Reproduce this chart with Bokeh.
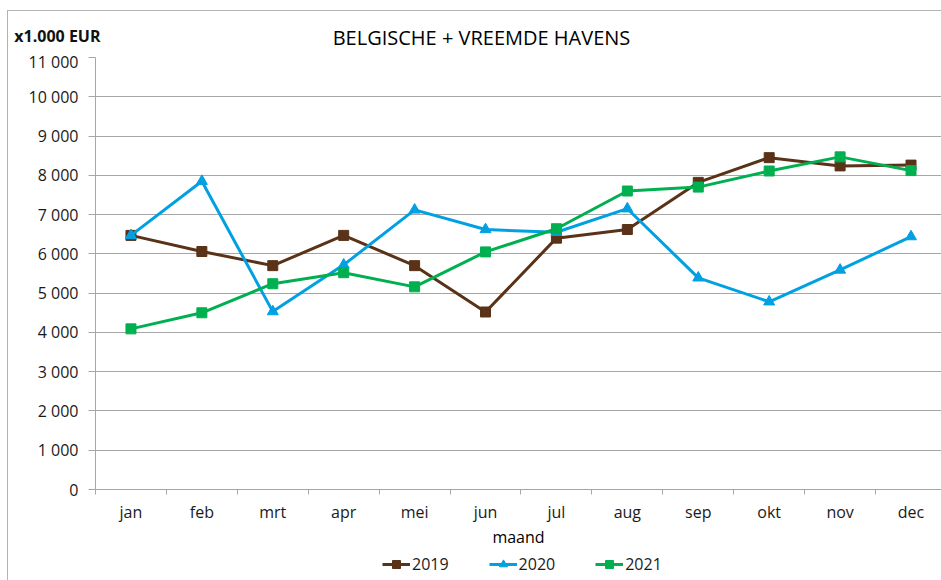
from bokeh.plotting import figure
from bokeh.layouts import column
from bokeh.models import Range1d, FixedTicker, Label, Legend, LegendItem
from bokeh.embed import file_html
from bokeh.resources import INLINE

months = ["jan", "feb", "mrt", "apr", "mei", "jun", "jul", "aug", "sep", "okt", "nov", "dec"]
v2019 = [6470, 6060, 5700, 6470, 5700, 4520, 6400, 6620, 7820, 8450, 8240, 8260]
v2020 = [6470, 7850, 4530, 5720, 7120, 6620, 6550, 7150, 5390, 4780, 5590, 6440]
v2021 = [4090, 4500, 5240, 5520, 5160, 6050, 6640, 7600, 7700, 8110, 8470, 8120]
series_names = ["2019", "2020", "2021"]
y_ticks = list(range(0, 11001, 1000))
unit_label = "x1.000 EUR"
title_text = "BELGISCHE + VREEMDE HAVENS"

FONT = "Open Sans"
GRID = "#a6a6a6"
W = 941

x = [i + 0.5 for i in range(len(months))]
series = [v2019, v2020, v2021]

def bare(h):
    f = figure(width=W, height=h, output_backend="svg", toolbar_location=None,
               x_range=Range1d(0, 1), y_range=Range1d(0, 1),
               min_border_left=95, min_border_right=0, min_border_top=0, min_border_bottom=0)
    f.xaxis.visible = False
    f.yaxis.visible = False
    f.grid.grid_line_color = None
    f.outline_line_color = None
    return f

# ---- header with title and unit
head = bare(50)
head.yaxis.visible = True
head.yaxis.ticker = FixedTicker(ticks=[0.3])
head.yaxis.major_label_overrides = {0.3: unit_label}
head.yaxis.axis_line_color = None
head.yaxis.major_tick_line_color = None
head.yaxis.minor_tick_line_color = None
head.yaxis.major_tick_out = 0
head.yaxis.major_tick_in = 0
head.yaxis.major_label_standoff = -5
head.yaxis.major_label_text_font = FONT
head.yaxis.major_label_text_font_size = "16px"
head.yaxis.major_label_text_font_style = "bold"
head.yaxis.major_label_text_color = "#111111"
head.add_layout(Label(x=386, y=13, x_units="screen", y_units="screen",
                      text=title_text, text_align="center", text_baseline="middle",
                      text_font=FONT, text_font_size="20px", text_color="#000000"))

# ---- main chart
p = figure(width=W, height=500, output_backend="svg", toolbar_location=None,
           x_range=Range1d(0, 11.93), y_range=Range1d(0, 11000),
           min_border_left=95, min_border_right=0, min_border_top=7, min_border_bottom=60)
p.outline_line_color = None

p.yaxis.ticker = FixedTicker(ticks=y_ticks)
p.yaxis.major_label_overrides = {t: f"{t:,}".replace(",", " ") for t in y_ticks}
p.yaxis.axis_line_color = GRID
p.yaxis.major_tick_line_color = GRID
p.yaxis.major_tick_out = 7
p.yaxis.major_tick_in = 0
p.yaxis.minor_tick_line_color = None
p.yaxis.major_label_standoff = 10
p.yaxis.major_label_text_font = FONT
p.yaxis.major_label_text_font_size = "16px"
p.yaxis.major_label_text_color = "#1a1a1a"

p.xaxis.ticker = FixedTicker(ticks=x, minor_ticks=list(range(0, len(months) + 1)))
p.xaxis.major_label_overrides = {xx: m for xx, m in zip(x, months)}
p.xaxis.axis_line_color = GRID
p.xaxis.major_tick_line_color = None
p.xaxis.major_tick_out = 5
p.xaxis.minor_tick_line_color = GRID
p.xaxis.minor_tick_out = 5
p.xaxis.minor_tick_in = 0
p.xaxis.major_label_standoff = 6
p.xaxis.major_label_text_font = FONT
p.xaxis.major_label_text_font_size = "16px"
p.xaxis.major_label_text_color = "#1a1a1a"
p.xaxis.axis_label = "maand"
p.xaxis.axis_label_standoff = 0
p.xaxis.axis_label_text_font = FONT
p.xaxis.axis_label_text_font_size = "16px"
p.xaxis.axis_label_text_font_style = "normal"
p.xaxis.axis_label_text_color = "#000000"

p.xgrid.grid_line_color = None
p.ygrid.grid_line_color = GRID
p.ygrid.grid_line_width = 1

colors = ["#5a3218", "#00a0e3", "#00b050"]
markers = ["square", "triangle", "square"]
sizes = [10, 11, 10]
for vals, c, mk, sz in zip(series, colors, markers, sizes):
    p.line(x, vals, line_color=c, line_width=3)
    p.scatter(x, vals, marker=mk, size=sz, fill_color=c, line_color=c)

# ---- legend strip (its renderers lie outside its 0..1 range; only the legend swatches show)
leg = bare(30)
items = []
for name, vals, c, mk, sz in zip(series_names, series, colors, markers, sizes):
    r1 = leg.line(x, vals, line_color=c, line_width=3)
    r2 = leg.scatter(x, vals, marker=mk, size=sz, fill_color=c, line_color=c)
    items.append(LegendItem(label=name, renderers=[r1, r2]))
legend = Legend(items=items, orientation="horizontal", location=(287, 5),
                border_line_color=None, background_fill_alpha=0,
                padding=0, margin=0, spacing=40, glyph_width=28, glyph_height=20,
                label_height=20, label_standoff=2,
                label_text_font=FONT, label_text_font_size="16px", label_text_color="#1a1a1a")
leg.add_layout(legend)

frame_css = (":host::after { content: ''; position: absolute; left: 7px; top: 10px; right: -20px; "
             "bottom: -20px; border-left: 1px solid #b4b4b4; border-top: 1px solid #b4b4b4; "
             "pointer-events: none; z-index: 10; }")
layout = column(head, p, leg, spacing=0, stylesheets=[frame_css])
open("out.html", "w").write(file_html(layout, INLINE))
